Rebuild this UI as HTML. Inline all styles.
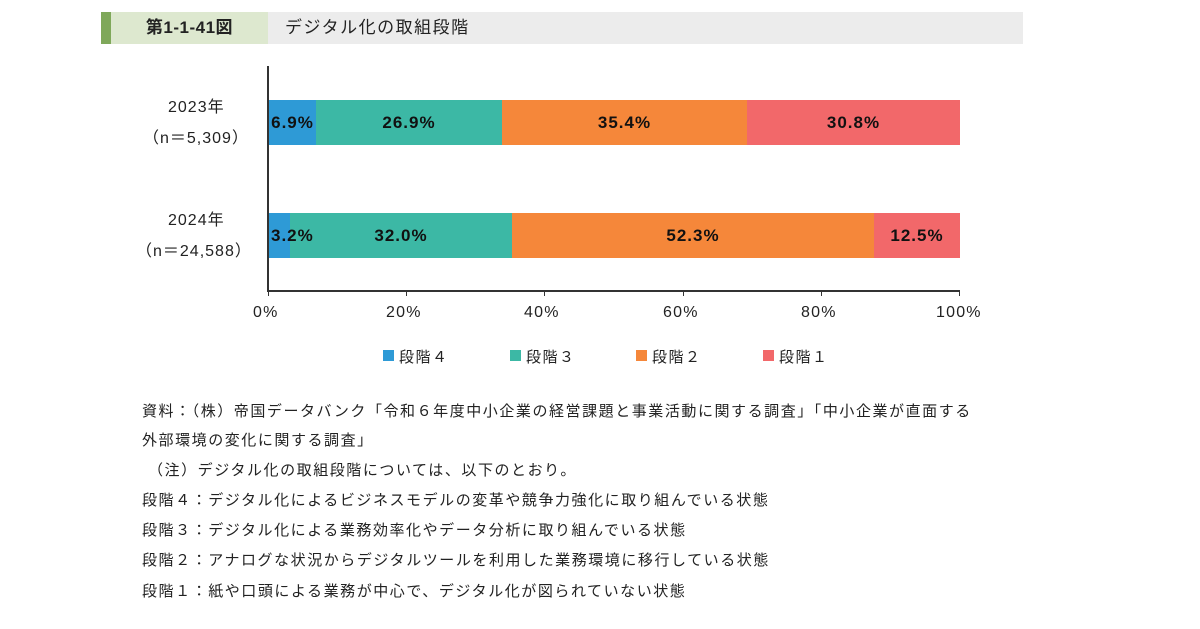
<!DOCTYPE html>
<html><head><meta charset="utf-8"><style>
body{margin:0;width:1200px;height:629px;background:#fff;position:relative;overflow:hidden;font-family:"Liberation Sans","Noto Sans CJK JP",sans-serif;color:#222}
.a{position:absolute;white-space:nowrap}
.bar{position:absolute;height:45px;display:flex;align-items:center;justify-content:center;font-weight:bold;font-size:17px;letter-spacing:1px;color:#111}
.n{font-size:15px;letter-spacing:1.55px;left:142px}
.t{font-size:16px;letter-spacing:1.2px}
.y{font-size:16px;letter-spacing:1px}
.lg{position:absolute;top:350px;width:11px;height:11px}
.lt{font-size:15px;letter-spacing:1.5px;top:346px}
</style></head><body>
<div class="a" style="left:101px;top:12px;width:10px;height:32px;background:#7fa85a"></div>
<div class="a" style="left:111px;top:12px;width:157px;height:32px;background:#dde8cf;font-size:17px;font-weight:bold;letter-spacing:0.5px;line-height:32px;text-align:center">第1-1-41図</div>
<div class="a" style="left:268px;top:12px;width:755px;height:32px;background:#ececec;font-size:17px;letter-spacing:1.5px;line-height:32px;padding-left:17px;box-sizing:border-box">デジタル化の取組段階</div>

<div class="a" style="left:267px;top:66px;width:2px;height:226px;background:#333"></div>
<div class="a" style="left:268px;top:290px;width:692px;height:2px;background:#333"></div>
<div class="a" style="left:268px;top:291px;width:1px;height:5px;background:#333"></div>
<div class="a" style="left:406px;top:291px;width:1px;height:5px;background:#333"></div>
<div class="a" style="left:544px;top:291px;width:1px;height:5px;background:#333"></div>
<div class="a" style="left:683px;top:291px;width:1px;height:5px;background:#333"></div>
<div class="a" style="left:821px;top:291px;width:1px;height:5px;background:#333"></div>
<div class="a" style="left:959px;top:291px;width:1px;height:5px;background:#333"></div>
<div class="a t" style="top:304px;left:253px">0%</div>
<div class="a t" style="top:304px;left:386px">20%</div>
<div class="a t" style="top:304px;left:524px">40%</div>
<div class="a t" style="top:304px;left:663px">60%</div>
<div class="a t" style="top:304px;left:801px">80%</div>
<div class="a t" style="top:304px;left:936px">100%</div>

<div class="a y" style="top:93px;left:168px">2023年</div>
<div class="a y" style="top:124px;left:143px">（n＝5,309）</div>
<div class="a y" style="top:206px;left:168px">2024年</div>
<div class="a y" style="top:237px;left:136px">（n＝24,588）</div>

<div class="bar" style="top:100px;left:269px;width:47px;background:#2e9ad6">6.9%</div>
<div class="bar" style="top:100px;left:316px;width:186px;background:#3cb8a5">26.9%</div>
<div class="bar" style="top:100px;left:502px;width:245px;background:#f5873a">35.4%</div>
<div class="bar" style="top:100px;left:747px;width:213px;background:#f2686a">30.8%</div>
<div class="bar" style="top:213px;left:269px;width:21px;background:#2e9ad6"></div>
<div class="bar" style="top:213px;left:290px;width:222px;background:#3cb8a5">32.0%</div>
<div class="bar" style="top:213px;left:512px;width:362px;background:#f5873a">52.3%</div>
<div class="bar" style="top:213px;left:874px;width:86px;background:#f2686a">12.5%</div>
<div class="a" style="top:213px;left:271px;font-weight:bold;font-size:17px;letter-spacing:1px;line-height:45px;color:#111">3.2%</div>

<div class="lg" style="left:383px;background:#2e9ad6"></div><div class="a lt" style="left:399px">段階４</div>
<div class="lg" style="left:510px;background:#3cb8a5"></div><div class="a lt" style="left:526px">段階３</div>
<div class="lg" style="left:636px;background:#f5873a"></div><div class="a lt" style="left:652px">段階２</div>
<div class="lg" style="left:763px;background:#f2686a"></div><div class="a lt" style="left:779px">段階１</div>

<div class="a n" style="top:400px">資料：（株）帝国データバンク「令和６年度中小企業の経営課題と事業活動に関する調査」「中小企業が直面する</div>
<div class="a n" style="top:429px">外部環境の変化に関する調査」</div>
<div class="a n" style="top:459px;left:148px">（注）デジタル化の取組段階については、以下のとおり。</div>
<div class="a n" style="top:489px">段階４：デジタル化によるビジネスモデルの変革や競争力強化に取り組んでいる状態</div>
<div class="a n" style="top:519px">段階３：デジタル化による業務効率化やデータ分析に取り組んでいる状態</div>
<div class="a n" style="top:549px">段階２：アナログな状況からデジタルツールを利用した業務環境に移行している状態</div>
<div class="a n" style="top:580px">段階１：紙や口頭による業務が中心で、デジタル化が図られていない状態</div>
</body></html>
